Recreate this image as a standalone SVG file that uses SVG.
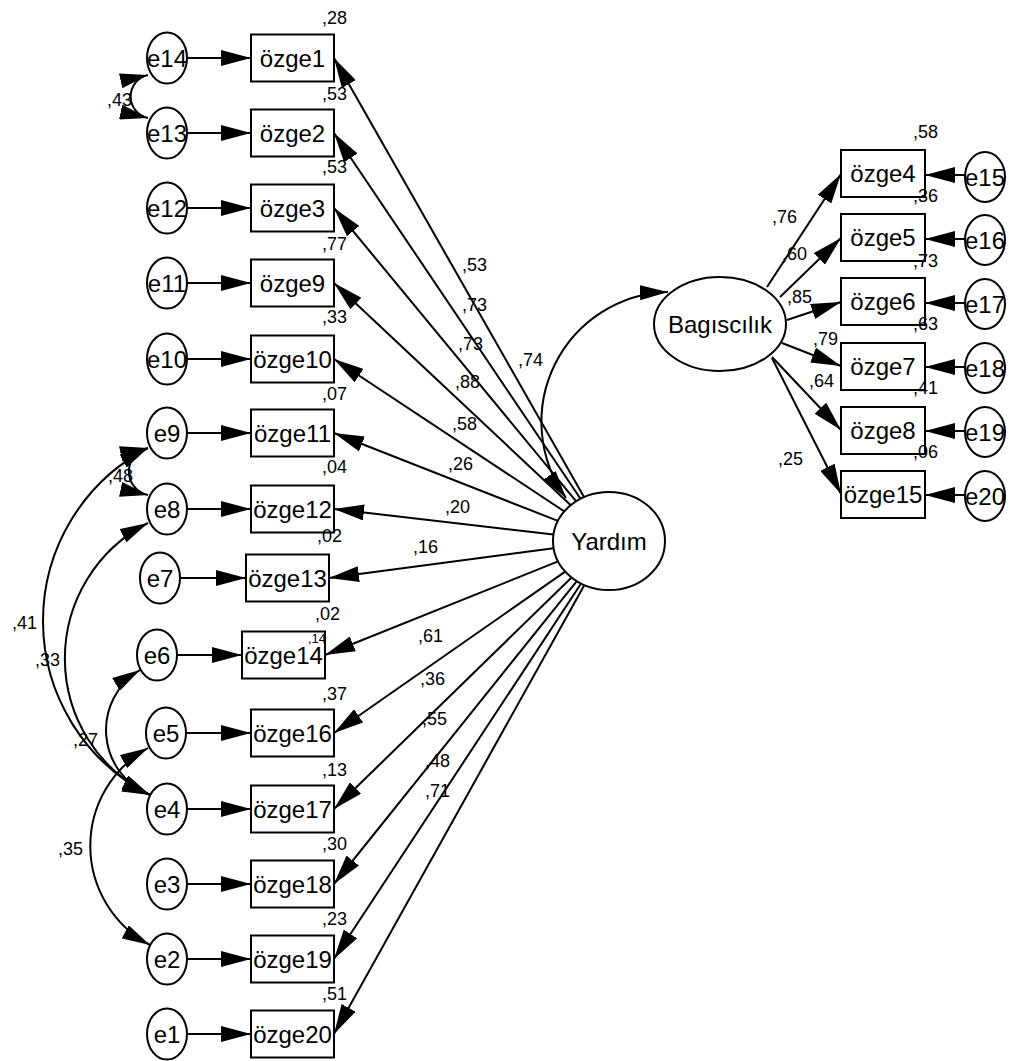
<svg xmlns="http://www.w3.org/2000/svg" width="1009" height="1061" viewBox="0 0 1009 1061">
<style>
.nd{fill:#fff;stroke:#000;stroke-width:2}
.t{font-family:"Liberation Sans",Arial,sans-serif;font-size:24px;text-anchor:middle;fill:#000}
.l{font-family:"Liberation Sans",Arial,sans-serif;font-size:18px;fill:#000}
.s{font-family:"Liberation Sans",Arial,sans-serif;font-size:13px;fill:#000}
#connectors path{stroke:#000;stroke-width:2;fill:none}
.r{marker-end:url(#ah)}
.cv{marker-start:url(#ah2);marker-end:url(#ah2)}
</style>
<defs>
<marker id="ah" markerUnits="userSpaceOnUse" markerWidth="30" markerHeight="16" refX="30" refY="8" orient="auto"><path d="M0,0 L30,8 L0,16 Z" fill="#000"/></marker>
<marker id="ah2" markerUnits="userSpaceOnUse" markerWidth="28" markerHeight="15" refX="28" refY="7.5" orient="auto-start-reverse"><path d="M0,0 L28,7.5 L0,15 Z" fill="#000"/></marker>
</defs>
<rect width="1009" height="1061" fill="#fff"/>
<g id="connectors">
<path class="r" d="M584,497 L334,58"/>
<path class="r" d="M580.5,498.8 L334,133"/>
<path class="r" d="M576.2,501.3 L334,208"/>
<path class="r" d="M570.8,505.2 L334,283"/>
<path class="r" d="M564.3,511.4 L334,359"/>
<path class="r" d="M557.9,520.9 L334,433"/>
<path class="r" d="M553.5,534.5 L334,509"/>
<path class="r" d="M553.6,548.3 L329,578"/>
<path class="r" d="M558.1,561.4 L325,655"/>
<path class="r" d="M565.2,571.6 L334,733"/>
<path class="r" d="M571.6,577.5 L334,809"/>
<path class="r" d="M576.8,581.1 L334,884"/>
<path class="r" d="M581.1,583.5 L334,959"/>
<path class="r" d="M584.4,585 L334,1034"/>
<path class="r" d="M767,287 L841,174"/>
<path class="r" d="M780,297 L841,238"/>
<path class="r" d="M787,320 L841,302"/>
<path class="r" d="M782,343 L841,366"/>
<path class="r" d="M772,357 L841,430"/>
<path class="r" d="M772,358 L841,494"/>
<path class="r" d="M187,58 L251,58"/>
<path class="r" d="M187,133 L251,133"/>
<path class="r" d="M187,208 L251,208"/>
<path class="r" d="M187,283 L251,283"/>
<path class="r" d="M187,359 L251,359"/>
<path class="r" d="M187,433 L251,433"/>
<path class="r" d="M187,509 L251,509"/>
<path class="r" d="M180,578 L246,578"/>
<path class="r" d="M177,655 L242,655"/>
<path class="r" d="M186,733 L251,733"/>
<path class="r" d="M187,809 L251,809"/>
<path class="r" d="M187,884 L251,884"/>
<path class="r" d="M187,959 L251,959"/>
<path class="r" d="M187,1034 L251,1034"/>
<path class="r" d="M965,175 L925,175"/>
<path class="r" d="M965,239 L925,239"/>
<path class="r" d="M965,303 L925,303"/>
<path class="r" d="M965,367 L925,367"/>
<path class="r" d="M965,431 L925,431"/>
<path class="r" d="M965,495 L925,495"/>
<path class="cv" d="M148,75 A22,22 0 0 0 148,118"/>
<path class="cv" d="M148,448 A24,24 0 0 0 148,495"/>
<path class="cv" d="M148,448 A195,195 0 0 0 150,795"/>
<path class="cv" d="M148,523 A152,152 0 0 0 150,795"/>
<path class="cv" d="M140,670 A70,70 0 0 0 150,795"/>
<path class="cv" d="M148,748 A112,112 0 0 0 150,945"/>
<path class="cv" d="M566,498 A130,130 0 0 1 668,292"/>
</g>
<g id="Yardim"><ellipse class="nd" cx="609" cy="541" rx="56" ry="49"/><text class="t" x="609" y="550">Yardım</text></g>
<g id="Bagiscilik"><ellipse class="nd" cx="720" cy="324" rx="66" ry="47"/><text class="t" x="720" y="333">Bagıscılık</text></g>
<g id="ozge1"><rect class="nd" x="251" y="34.5" width="83" height="47"/><text class="t" x="292.5" y="66.5">özge1</text></g>
<g id="ozge2"><rect class="nd" x="251" y="109.5" width="83" height="47"/><text class="t" x="292.5" y="141.5">özge2</text></g>
<g id="ozge3"><rect class="nd" x="251" y="184.5" width="83" height="47"/><text class="t" x="292.5" y="216.5">özge3</text></g>
<g id="ozge9"><rect class="nd" x="251" y="259.5" width="83" height="47"/><text class="t" x="292.5" y="291.5">özge9</text></g>
<g id="ozge10"><rect class="nd" x="251" y="335.5" width="83" height="47"/><text class="t" x="292.5" y="367.5">özge10</text></g>
<g id="ozge11"><rect class="nd" x="251" y="409.5" width="83" height="47"/><text class="t" x="292.5" y="441.5">özge11</text></g>
<g id="ozge12"><rect class="nd" x="251" y="485.5" width="83" height="47"/><text class="t" x="292.5" y="517.5">özge12</text></g>
<g id="ozge13"><rect class="nd" x="246" y="554.5" width="83" height="47"/><text class="t" x="287.5" y="586.5">özge13</text></g>
<g id="ozge14"><rect class="nd" x="242" y="631.5" width="83" height="47"/><text class="t" x="283.5" y="663.5">özge14</text></g>
<g id="ozge16"><rect class="nd" x="251" y="709.5" width="83" height="47"/><text class="t" x="292.5" y="741.5">özge16</text></g>
<g id="ozge17"><rect class="nd" x="251" y="785.5" width="83" height="47"/><text class="t" x="292.5" y="817.5">özge17</text></g>
<g id="ozge18"><rect class="nd" x="251" y="860.5" width="83" height="47"/><text class="t" x="292.5" y="892.5">özge18</text></g>
<g id="ozge19"><rect class="nd" x="251" y="935.5" width="83" height="47"/><text class="t" x="292.5" y="967.5">özge19</text></g>
<g id="ozge20"><rect class="nd" x="251" y="1010.5" width="83" height="47"/><text class="t" x="292.5" y="1042.5">özge20</text></g>
<g id="ozge4"><rect class="nd" x="841" y="150" width="84" height="47"/><text class="t" x="883" y="182">özge4</text></g>
<g id="ozge5"><rect class="nd" x="841" y="214" width="84" height="47"/><text class="t" x="883" y="246">özge5</text></g>
<g id="ozge6"><rect class="nd" x="841" y="278" width="84" height="47"/><text class="t" x="883" y="310">özge6</text></g>
<g id="ozge7"><rect class="nd" x="841" y="343" width="84" height="47"/><text class="t" x="883" y="375">özge7</text></g>
<g id="ozge8"><rect class="nd" x="841" y="407" width="84" height="47"/><text class="t" x="883" y="439">özge8</text></g>
<g id="ozge15"><rect class="nd" x="841" y="471" width="84" height="47"/><text class="t" x="883" y="503">özge15</text></g>
<g id="e14"><ellipse class="nd" cx="167" cy="58" rx="20" ry="25.5"/><text class="t" x="167" y="66.5">e14</text></g>
<g id="e13"><ellipse class="nd" cx="167" cy="133" rx="20" ry="25.5"/><text class="t" x="167" y="141.5">e13</text></g>
<g id="e12"><ellipse class="nd" cx="167" cy="208" rx="20" ry="25.5"/><text class="t" x="167" y="216.5">e12</text></g>
<g id="e11"><ellipse class="nd" cx="167" cy="283" rx="20" ry="25.5"/><text class="t" x="167" y="291.5">e11</text></g>
<g id="e10"><ellipse class="nd" cx="167" cy="359" rx="20" ry="25.5"/><text class="t" x="167" y="367.5">e10</text></g>
<g id="e9"><ellipse class="nd" cx="167" cy="433" rx="20" ry="25.5"/><text class="t" x="167" y="441.5">e9</text></g>
<g id="e8"><ellipse class="nd" cx="167" cy="509" rx="20" ry="25.5"/><text class="t" x="167" y="517.5">e8</text></g>
<g id="e7"><ellipse class="nd" cx="160" cy="578" rx="20" ry="25.5"/><text class="t" x="160" y="586.5">e7</text></g>
<g id="e6"><ellipse class="nd" cx="157" cy="655" rx="20" ry="25.5"/><text class="t" x="157" y="663.5">e6</text></g>
<g id="e5"><ellipse class="nd" cx="166" cy="733" rx="20" ry="25.5"/><text class="t" x="166" y="741.5">e5</text></g>
<g id="e4"><ellipse class="nd" cx="167" cy="809" rx="20" ry="25.5"/><text class="t" x="167" y="817.5">e4</text></g>
<g id="e3"><ellipse class="nd" cx="167" cy="884" rx="20" ry="25.5"/><text class="t" x="167" y="892.5">e3</text></g>
<g id="e2"><ellipse class="nd" cx="167" cy="959" rx="20" ry="25.5"/><text class="t" x="167" y="967.5">e2</text></g>
<g id="e1"><ellipse class="nd" cx="167" cy="1034" rx="20" ry="25.5"/><text class="t" x="167" y="1042.5">e1</text></g>
<g id="e15"><ellipse class="nd" cx="985" cy="177" rx="20" ry="25"/><text class="t" x="985" y="185.5">e15</text></g>
<g id="e16"><ellipse class="nd" cx="985" cy="240" rx="20" ry="25"/><text class="t" x="985" y="248.5">e16</text></g>
<g id="e17"><ellipse class="nd" cx="985" cy="304" rx="20" ry="25"/><text class="t" x="985" y="312.5">e17</text></g>
<g id="e18"><ellipse class="nd" cx="985" cy="368" rx="20" ry="25"/><text class="t" x="985" y="376.5">e18</text></g>
<g id="e19"><ellipse class="nd" cx="985" cy="432" rx="20" ry="25"/><text class="t" x="985" y="440.5">e19</text></g>
<g id="e20"><ellipse class="nd" cx="985" cy="496" rx="20" ry="25"/><text class="t" x="985" y="504.5">e20</text></g>
<g id="labels">
<text class="l" x="322" y="24">,28</text>
<text class="l" x="322" y="100">,53</text>
<text class="l" x="322" y="173">,53</text>
<text class="l" x="322" y="250">,77</text>
<text class="l" x="322" y="323">,33</text>
<text class="l" x="322" y="400">,07</text>
<text class="l" x="322" y="473">,04</text>
<text class="l" x="317" y="542">,02</text>
<text class="l" x="315" y="620">,02</text>
<text class="s" x="308" y="643">,14</text>
<text class="l" x="322" y="700">,37</text>
<text class="l" x="322" y="776">,13</text>
<text class="l" x="322" y="850">,30</text>
<text class="l" x="322" y="925">,23</text>
<text class="l" x="322" y="1000">,51</text>
<text class="l" x="462" y="271">,53</text>
<text class="l" x="462" y="311">,73</text>
<text class="l" x="458" y="350">,73</text>
<text class="l" x="455" y="388">,88</text>
<text class="l" x="452" y="430">,58</text>
<text class="l" x="448" y="470">,26</text>
<text class="l" x="445" y="513">,20</text>
<text class="l" x="413" y="553">,16</text>
<text class="l" x="418" y="642">,61</text>
<text class="l" x="420" y="685">,36</text>
<text class="l" x="422" y="725">,55</text>
<text class="l" x="425" y="767">,48</text>
<text class="l" x="425" y="797">,71</text>
<text class="l" x="518" y="366">,74</text>
<text class="l" x="913" y="138">,58</text>
<text class="l" x="913" y="202">,36</text>
<text class="l" x="913" y="267">,73</text>
<text class="l" x="913" y="330">,63</text>
<text class="l" x="913" y="394">,41</text>
<text class="l" x="913" y="458">,06</text>
<text class="l" x="772" y="223">,76</text>
<text class="l" x="782" y="260">,60</text>
<text class="l" x="787" y="303">,85</text>
<text class="l" x="813" y="345">,79</text>
<text class="l" x="809" y="387">,64</text>
<text class="l" x="778" y="465">,25</text>
<text class="l" x="107" y="106">,43</text>
<text class="l" x="108" y="482">,48</text>
<text class="l" x="12" y="629">,41</text>
<text class="l" x="35" y="666">,33</text>
<text class="l" x="73" y="746">,27</text>
<text class="l" x="58" y="855">,35</text>
</g>
</svg>
